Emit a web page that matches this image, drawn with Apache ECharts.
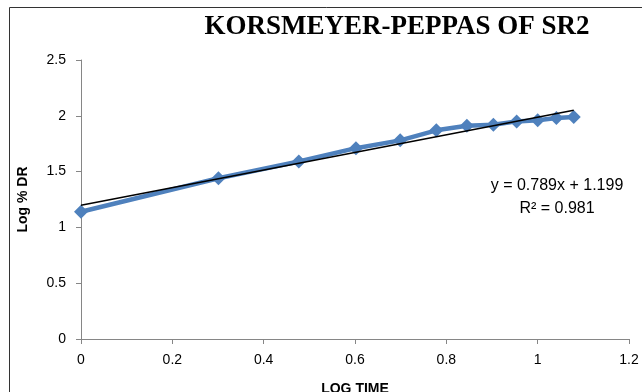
<!DOCTYPE html>
<html>
<head>
<meta charset="utf-8">
<script src="https://cdn.jsdelivr.net/npm/echarts@6/dist/echarts.min.js"></script>
<style>html,body{margin:0;padding:0;background:#fff;}#c{width:642px;height:392px;}</style>
</head>
<body>
<div id="c"></div>
<script>
const logTime = [0, 0.301, 0.477, 0.602, 0.699, 0.778, 0.845, 0.903, 0.954, 1.0, 1.041, 1.079];
const logDR = [1.14, 1.44, 1.59, 1.71, 1.78, 1.87, 1.91, 1.92, 1.95, 1.96, 1.98, 1.99];
const trendSlope = 0.789;
const trendIntercept = 1.199;
const trendR2 = 0.981;
const xTicks = [0, 0.2, 0.4, 0.6, 0.8, 1, 1.2];
const yTicks = [0, 0.5, 1, 1.5, 2, 2.5];

const seriesData = logTime.map((x, i) => [x, logDR[i]]);
const xEnds = [logTime[0], logTime[logTime.length - 1]];
const trendData = xEnds.map(x => [x, trendSlope * x + trendIntercept]);

const chart = echarts.init(document.getElementById('c'), null, {renderer: 'canvas'});
const axisFont = {fontFamily: 'Liberation Sans', fontSize: 14, color: '#000'};
chart.setOption({
  animation: false,
  backgroundColor: '#fff',
  title: {
    text: 'KORSMEYER-PEPPAS OF SR2',
    left: 392, top: 9, textAlign: 'center',
    textStyle: {fontFamily: 'Liberation Serif', fontWeight: 'bold', fontSize: 27, color: '#000'}
  },
  grid: {left: 81, right: 13, top: 60, bottom: 53, containLabel: false, outerBoundsMode: 'none'},
  xAxis: {
    type: 'value', min: xTicks[0], max: xTicks[xTicks.length - 1], interval: 0.2,
    name: 'LOG TIME', nameLocation: 'middle', nameGap: 43,
    nameTextStyle: {fontFamily: 'Liberation Sans', fontWeight: 'bold', fontSize: 14, color: '#000'},
    axisLine: {show: true, lineStyle: {color: '#868686', width: 1}},
    axisTick: {show: true, inside: false, length: 5, lineStyle: {color: '#868686'}},
    axisLabel: Object.assign({margin: 14}, axisFont),
    splitLine: {show: false}
  },
  yAxis: {
    type: 'value', min: yTicks[0], max: yTicks[yTicks.length - 1], interval: 0.5,
    name: 'Log % DR', nameLocation: 'middle', nameGap: 51, nameRotate: 90,
    nameTextStyle: {fontFamily: 'Liberation Sans', fontWeight: 'bold', fontSize: 14, color: '#000'},
    axisLine: {show: true, lineStyle: {color: '#868686', width: 1}},
    axisTick: {show: true, inside: false, length: 5, lineStyle: {color: '#868686'}},
    axisLabel: Object.assign({margin: 15}, axisFont),
    splitLine: {show: false}
  },
  series: [
    {
      type: 'line', data: seriesData,
      symbol: 'diamond', symbolSize: 14,
      lineStyle: {color: '#4F81BD', width: 4.5},
      itemStyle: {color: '#4F81BD'},
      z: 2
    },
    {
      type: 'line', data: trendData,
      symbol: 'none',
      lineStyle: {color: '#000', width: 1.5},
      z: 3
    }
  ],
  graphic: [
    {type: 'rect', shape: {x: 9.5, y: 7.5, width: 700, height: 500}, style: {fill: 'none', stroke: '#333', lineWidth: 1}, z: 0},
    {type: 'text', x: 557, y: 186, style: {text: 'y = ' + trendSlope + 'x + ' + trendIntercept, align: 'center', verticalAlign: 'middle', font: '16px "Liberation Sans"', fill: '#000'}},
    {type: 'text', x: 557, y: 209, style: {text: 'R² = ' + trendR2, align: 'center', verticalAlign: 'middle', font: '16px "Liberation Sans"', fill: '#000'}}
  ]
});
</script>
</body>
</html>
